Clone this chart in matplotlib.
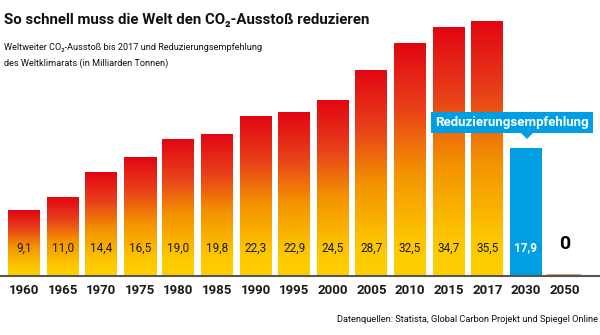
import matplotlib.pyplot as plt
import numpy as np
from matplotlib.colors import LinearSegmentedColormap
from matplotlib.patches import Polygon

years = ['1960', '1965', '1970', '1975', '1980', '1985', '1990', '1995',
         '2000', '2005', '2010', '2015', '2017', '2030', '2050']
values = [9.1, 11.0, 14.4, 16.5, 19.0, 19.8, 22.3, 22.9,
          24.5, 28.7, 32.5, 34.7, 35.5, 17.9, 0.0]
labels = ['9,1', '11,0', '14,4', '16,5', '19,0', '19,8', '22,3', '22,9',
          '24,5', '28,7', '32,5', '34,7', '35,5', '17,9', '0']

plt.rcParams['font.family'] = ['Roboto', 'DejaVu Sans']

red_yellow = LinearSegmentedColormap.from_list(
    'ry', [(0.0, '#ffd100'), (0.15, '#fdc600'), (0.45, '#f39200'),
           (0.72, '#e8401a'), (1.0, '#e20613')])
blue = '#009fe3'

fig = plt.figure(figsize=(6, 3.35), dpi=100)
ax = fig.add_axes([0, 0, 1, 1])
ax.axis('off')

# pixel layout: first bar center 24px, step 38.6px, baseline 276px, 7.16px per unit
step = 38.6
scale = 7.16
ax.set_xlim(-24 / step, (600 - 24) / step)
ax.set_ylim(-59 / scale, 276 / scale)

w = 32 / step
grad = np.linspace(0, 1, 256).reshape(-1, 1)
for i, (v, lab) in enumerate(zip(values, labels)):
    if years[i] == '2030':
        ax.bar(i, v, width=w, color=blue, zorder=2)
        ax.text(i, 3.9, lab, ha='center', va='center', color='white',
                fontsize=8.5, fontweight='bold', zorder=4)
    elif years[i] == '2050':
        ax.plot([i - w / 2, i + w / 2], [0.12, 0.12], color='#f0a060', lw=1.5, zorder=2)
        ax.text(i, 4.4, lab, ha='center', va='center', color='black',
                fontsize=14, fontweight='bold', zorder=4)
    else:
        ax.imshow(grad, cmap=red_yellow, origin='lower', aspect='auto',
                  extent=(i - w / 2, i + w / 2, 0, v), zorder=2)
        ax.text(i, 3.9, lab, ha='center', va='center', color='#1a1a1a',
                fontsize=8.5, zorder=4)
    ax.text(i, -14 / scale, years[i], ha='center', va='center', color='#1a1a1a',
            fontsize=9.5, fontweight='bold')

ax.axhline(0, color='#555555', lw=1.5, zorder=3)

# callout for the recommendation
fig.text(512 / 600, 1 - 122.5 / 335, 'Reduzierungsempfehlung', ha='center', va='center',
         color='white', fontsize=9.5, fontweight='bold',
         bbox=dict(boxstyle='square,pad=0.32', fc=blue, ec='none'))
tri = Polygon([(520 / 600, 1 - 132 / 335), (534 / 600, 1 - 132 / 335),
               (527 / 600, 1 - 139 / 335)], closed=True, transform=fig.transFigure,
              fc=blue, ec='none')
fig.patches.append(tri)

fig.text(0.006, 1 - 20 / 335, 'So schnell muss die Welt den CO₂-Ausstoß reduzieren',
         ha='left', va='center', fontsize=10.8, fontweight='bold', color='#111111')
fig.text(0.006, 1 - 47 / 335, 'Weltweiter CO₂-Ausstoß bis 2017 und Reduzierungsempfehlung',
         ha='left', va='center', fontsize=6.6, color='#111111')
fig.text(0.006, 1 - 63 / 335, 'des Weltklimarats (in Milliarden Tonnen)',
         ha='left', va='center', fontsize=6.6, color='#111111')
fig.text(0.997, 1 - 320 / 335, 'Datenquellen: Statista, Global Carbon Projekt und Spiegel Online',
         ha='right', va='center', fontsize=6.7, color='#111111')

fig.savefig('out.png', dpi=100)
